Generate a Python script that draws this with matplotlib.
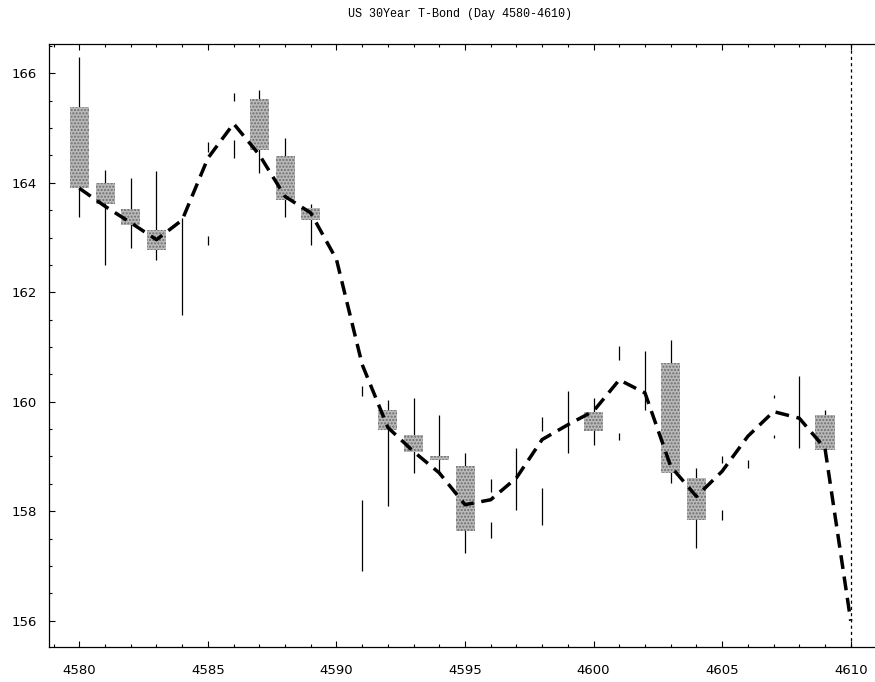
import numpy as np
import matplotlib.pyplot as plt
from matplotlib.patches import Rectangle
from matplotlib.ticker import MultipleLocator

plt.rcParams['font.family'] = 'DejaVu Sans'

# box bodies (day, low edge, high edge)
box_day = [4580, 4581, 4582, 4583, 4587, 4588, 4589, 4592, 4593, 4594,
           4595, 4600, 4603, 4604, 4609]
box_lo = [163.90, 163.61, 163.23, 162.78, 164.60, 163.69, 163.32, 159.49, 159.09, 158.93,
          157.63, 159.46, 158.70, 157.84, 159.11]
box_hi = [165.38, 163.99, 163.52, 163.14, 165.53, 164.48, 163.54, 159.85, 159.40, 159.00,
          158.82, 159.82, 160.71, 158.61, 159.76]

# wick pieces as they show in the scan (day, low, high)
wick_day = [4580, 4581, 4582, 4583, 4584, 4585, 4585, 4586, 4586, 4587,
            4588, 4589, 4591, 4591, 4592, 4593, 4594, 4595, 4596, 4596,
            4597, 4598, 4598, 4599, 4600, 4601, 4601, 4602, 4603, 4604,
            4605, 4605, 4606, 4607, 4607, 4608, 4609]
wick_lo = [163.38, 162.50, 162.81, 162.59, 161.59, 164.57, 162.87, 165.49, 164.46, 164.18,
           163.38, 162.87, 156.90, 160.10, 158.09, 158.70, 158.67, 157.24, 158.36, 157.51,
           158.03, 159.46, 157.75, 159.06, 159.21, 160.77, 159.31, 159.85, 158.51, 157.33,
           158.88, 157.84, 158.79, 160.06, 159.34, 159.15, 159.09]
wick_hi = [166.30, 164.24, 164.09, 164.21, 163.36, 164.75, 163.03, 165.64, 164.79, 165.70,
           164.82, 163.62, 158.21, 160.28, 160.04, 160.07, 159.76, 159.06, 158.59, 157.81,
           159.15, 159.73, 158.42, 160.19, 160.07, 161.01, 159.43, 160.92, 161.13, 158.79,
           159.00, 158.03, 158.94, 160.12, 159.40, 160.47, 159.85]

# smoothed trend line
line_day = list(range(4580, 4611))
line_val = [163.90, 163.57, 163.27, 162.96, 163.32, 164.45, 165.08, 164.51, 163.75, 163.45,
            162.60, 160.68, 159.53, 159.09, 158.70, 158.12, 158.21, 158.61, 159.31, 159.58,
            159.83, 160.40, 160.16, 158.82, 158.27, 158.73, 159.37, 159.82, 159.70, 159.15,
            156.00]

fig = plt.figure(figsize=(8.75, 6.82), dpi=100)
ax = fig.add_axes([49 / 875, 1 - 647 / 682, 1 - 49 / 875, (647 - 44) / 682])

ax.vlines(wick_day, wick_lo, wick_hi, color='black', linewidth=0.9, zorder=2)

bw = 0.74
for d, lo, hi in zip(box_day, box_lo, box_hi):
    ax.add_patch(Rectangle((d - bw / 2, lo), bw, hi - lo, facecolor='#b9b9b9',
                           edgecolor='#6e6e6e', hatch='.....', linewidth=0, zorder=3))

ax.plot(line_day, line_val, color='black', linewidth=2.5, dashes=(4, 2.2),
        solid_capstyle='butt', dash_capstyle='butt', zorder=4)

ax.axvline(4610, color='black', linewidth=0.9, linestyle=(0, (2.5, 2.5)), zorder=1)

ax.set_xlim(4578.82, 4610.945)
ax.set_ylim(155.52, 166.535)

ax.xaxis.set_major_locator(MultipleLocator(5))
ax.xaxis.set_minor_locator(MultipleLocator(1))
ax.yaxis.set_major_locator(MultipleLocator(2))
ax.yaxis.set_minor_locator(MultipleLocator(0.5))
ax.tick_params(which='both', direction='in', top=True, right=False, width=0.8,
               labelsize=9.5, colors='black')
ax.tick_params(which='major', length=4.5)
ax.tick_params(which='minor', length=2.5)
ax.tick_params(axis='x', pad=12)
ax.tick_params(axis='y', pad=9)

for s in ['left', 'bottom', 'top']:
    ax.spines[s].set_linewidth(0.9)
ax.spines['right'].set_visible(False)

fig.text(460 / 875, 1 - 14 / 682, 'US 30Year T-Bond (Day 4580-4610)',
         ha='center', va='center', fontsize=8.5, family='Liberation Mono')

fig.savefig('out.png', dpi=100)
